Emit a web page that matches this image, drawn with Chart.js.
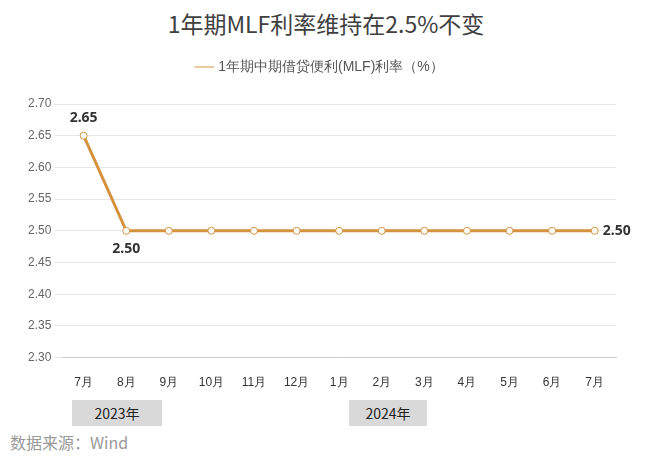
<!DOCTYPE html>
<html><head><meta charset="utf-8">
<script src="https://cdn.jsdelivr.net/npm/chart.js@4/dist/chart.umd.min.js"></script>
<style>
body{margin:0;background:#fff;font-family:"Noto Sans CJK SC","Noto Sans",sans-serif;}
#wrap{position:relative;width:652px;height:459px;}
#title{position:absolute;top:6px;left:0;width:652px;text-align:center;font-size:23px;color:#404040;}
.yr{position:absolute;top:400px;height:26px;line-height:26px;background:#d9d9d9;color:#222;font-size:14px;text-align:center;}
#src{position:absolute;left:10px;top:430px;font-size:16px;color:#999;}
</style></head><body>
<div id="wrap">
<div id="title">1年期MLF利率维持在2.5%不变</div>
<div style="position:absolute;left:0;top:46px;width:652px;height:354px"><canvas id="c"></canvas></div>
<div class="yr" style="left:72px;width:90px">2023年</div>
<div class="yr" style="left:349px;width:78px">2024年</div>
<div id="src">数据来源：Wind</div>
</div>
<script>
const categories=["7月","8月","9月","10月","11月","12月","1月","2月","3月","4月","5月","6月","7月"];
const mlfRate=[2.65,2.50,2.50,2.50,2.50,2.50,2.50,2.50,2.50,2.50,2.50,2.50,2.50];
const yTicks=[2.30,2.35,2.40,2.45,2.50,2.55,2.60,2.65,2.70];
const labelIdx=[0,1,12];
const lbl={id:'lbl',afterDatasetsDraw(ch){const ctx=ch.ctx,m=ch.getDatasetMeta(0);ctx.save();ctx.font='bold 14px "Noto Sans","DejaVu Sans",sans-serif';ctx.fillStyle='#333';ctx.textAlign='center';ctx.textBaseline='middle';
labelIdx.forEach(i=>{const p=m.data[i];let x=p.x,y=p.y;if(i===0)y-=18;else if(i===1)y+=18;else{x+=22;}ctx.fillText(mlfRate[i].toFixed(2),x,y);});ctx.restore();}};
new Chart(document.getElementById('c'),{type:'line',
data:{labels:categories,datasets:[{label:'1年期中期借贷便利(MLF)利率（%）',data:mlfRate,borderColor:'#d4923f',borderWidth:3,pointBackgroundColor:'#fff',pointBorderColor:'#d4923f',pointBorderWidth:1,pointRadius:3.5,tension:0}]},
options:{responsive:true,maintainAspectRatio:false,animation:false,layout:{padding:{left:25,right:36,top:0,bottom:0}},
plugins:{legend:{labels:{color:'#555',font:{size:14},usePointStyle:true,pointStyle:'line',boxWidth:30,padding:14},title:{display:false}},tooltip:{enabled:false}},
scales:{y:{min:2.30,max:2.70,afterBuildTicks(a){a.ticks=yTicks.map(v=>({value:v}));},ticks:{color:'#666',font:{size:12},callback:v=>v.toFixed(2)},grid:{color:'#e6e6e6'},border:{display:false}},
x:{offset:true,ticks:{color:'#333',font:{size:12},padding:10},grid:{display:false},border:{color:'#ccc'}}}},
plugins:[lbl,{id:'legpad',beforeInit(ch){const f=ch.legend.fit;ch.legend.fit=function(){f.bind(ch.legend)();this.height+=20;};}}]});
</script></body></html>
